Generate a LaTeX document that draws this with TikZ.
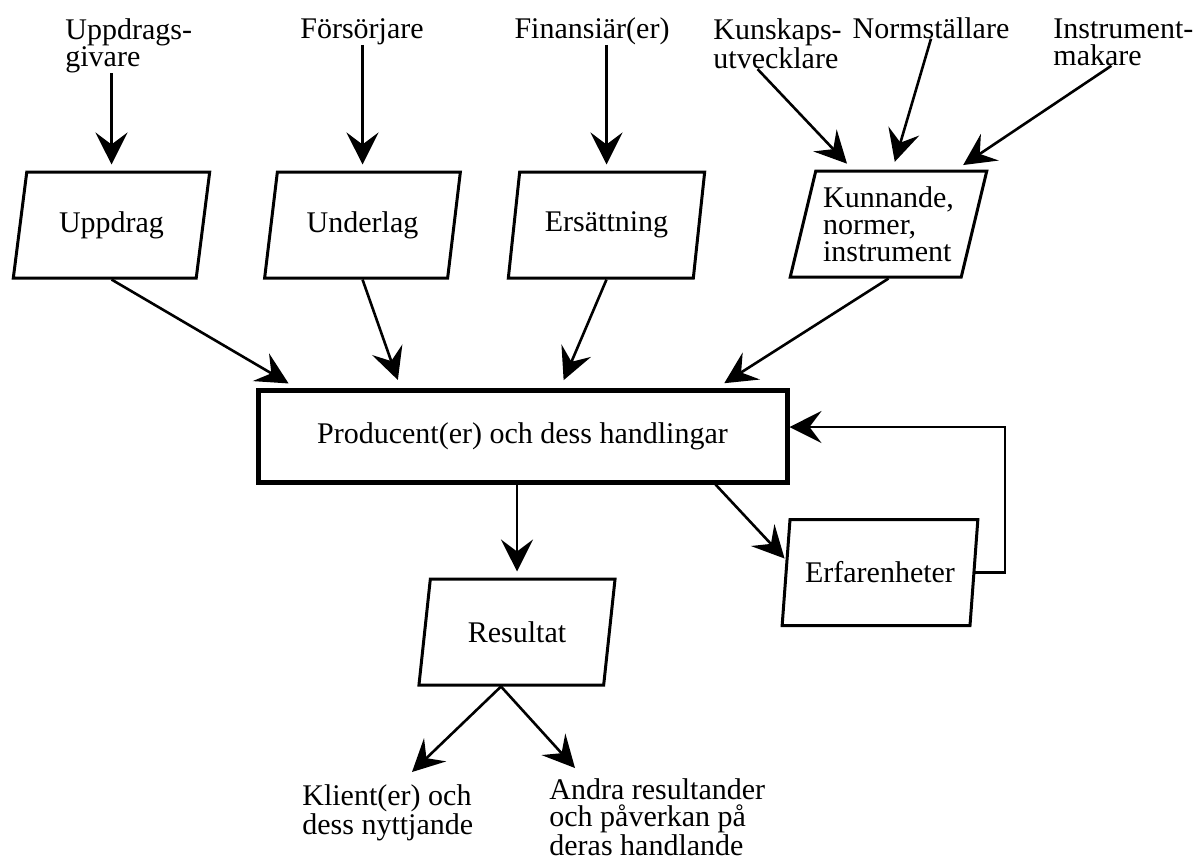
\documentclass[tikz,border=0pt]{standalone}
\usepackage{fontspec}
\setmainfont{Liberation Serif}
\usetikzlibrary{shapes.geometric,arrows.meta}
\begin{document}
\begin{tikzpicture}[x=0.5pt,y=0.5pt,
ruta/.style={draw=black, line width=1.5pt, trapezium, trapezium left angle=73, trapezium right angle=107, trapezium stretches=true, minimum width=98.5pt, minimum height=53pt, align=center},
huvud/.style={draw=black, line width=2.5pt, rectangle, minimum width=264.5pt, minimum height=46pt},
pil/.style={black, line width=1.3pt, -{Stealth[length=16pt,width=16pt,inset=6pt]}},
etikett/.style={align=left, anchor=north west}]
\tikzstyle{every node}+=[inner sep=0pt, font=\fontsize{15}{13.5}\selectfont]
\useasboundingbox (0,0) rectangle (1198,-863);
\node [ruta] (uppdrag) at (111.5,-225) {Uppdrag};
\node [ruta] (underlag) at (362.5,-225) {Underlag};
\node [ruta] (ersattning) at (606.5,-225) {Ersättning};
\node [ruta, align=left] (kunnande) at (888.5,-224) {Kunnande,\\normer,\\instrument};
\node [huvud] (producent) at (522.5,-436) {Producent(er) och dess handlingar};
\node [ruta] (resultat) at (517,-632) {Resultat};
\node [ruta] (erfarenheter) at (880,-572.5) {Erfarenheter};
\node [etikett] (uppdragsgivare) at (65,-18) {Uppdrags-\\givare};
\node [anchor=base] (forsorjare) at (362,-38) {Försörjare};
\node [anchor=base] (finansiarer) at (592,-38) {Finansiär(er)};
\node [etikett] (kunskaps) at (713,-18) {Kunskaps-\\utvecklare};
\node [anchor=base] (normstallare) at (931,-38) {Normställare};
\node [etikett] (instrumentmakare) at (1053,-18) {Instrument-\\makare};
\node [etikett] (klient) at (302,-784) {Klient(er) och\\dess nyttjande};
\node [etikett] (andra) at (549,-778) {Andra resultander\\och påverkan på\\deras handlande};
\coordinate (retur) at (1005,-427);
\draw [pil, shorten >=3pt] (uppdragsgivare.south -| uppdrag.north) -- (uppdrag.north);
\draw [pil, shorten >=3pt] (forsorjare.south -| underlag.north) -- (underlag.north);
\draw [pil, shorten >=3pt] (finansiarer.south -| ersattning.north) -- (ersattning.north);
\draw [pil, shorten >=4pt] ([xshift=-10pt]kunskaps.south) -- ([xshift=-18pt]kunnande.north);
\draw [pil, shorten >=4pt] (normstallare.south) -- ([xshift=2pt]kunnande.north);
\draw [pil, shorten >=4pt] ([xshift=-6pt]instrumentmakare.south) -- ([xshift=34pt]kunnande.north);
\draw [pil, shorten >=4pt] (uppdrag.south) -- ([xshift=20pt]producent.north west);
\draw [pil, shorten >=4pt] (underlag.south) -- ([xshift=72.5pt]producent.north west);
\draw [pil, shorten >=4pt] (ersattning.south) -- ([xshift=152.5pt]producent.north west);
\draw [pil, shorten >=4pt] (kunnande.south) -- ([xshift=231pt]producent.north west);
\draw [pil, shorten >=3pt] (producent.south -| resultat.north) -- (resultat.north);
\draw [pil] ([xshift=-37pt]producent.south east) -- ([yshift=7pt]erfarenheter.west);
\draw [pil] (erfarenheter.east) -| (retur) -- (retur -| producent.east);
\draw [pil] ([xshift=-8pt]resultat.south) -- ([xshift=55pt,yshift=6pt]klient.north west);
\draw [pil] ([xshift=-8pt]resultat.south) -- ([xshift=13pt,yshift=5pt]andra.north west);
\end{tikzpicture}
\end{document}
